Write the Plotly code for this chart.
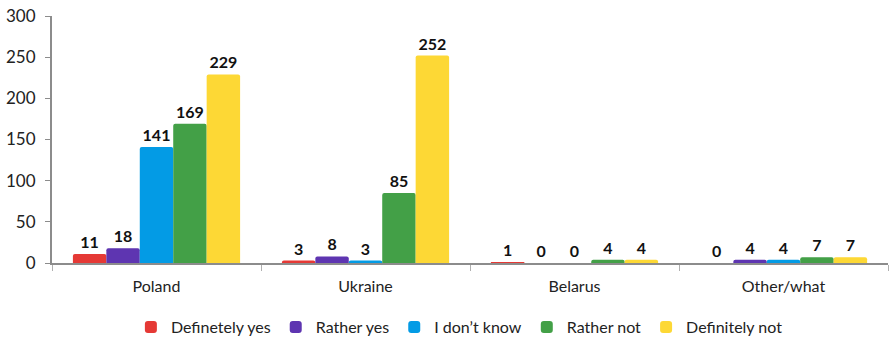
import plotly.graph_objects as go

categories = ["Poland", "Ukraine", "Belarus", "Other/what"]
series_names = ["Definetely yes", "Rather yes", "I don\u2019t know", "Rather not", "Definitely not"]
definetely_yes = [11, 3, 1, 0]
rather_yes = [18, 8, 0, 4]
dont_know = [141, 3, 0, 4]
rather_not = [169, 85, 4, 7]
definitely_not = [229, 252, 4, 7]
colors = ["#E53935", "#5E35B1", "#039BE5", "#43A047", "#FDD835"]
y_ticks = [0, 50, 100, 150, 200, 250, 300]

values = [definetely_yes, rather_yes, dont_know, rather_not, definitely_not]
FONT = "Lato, 'Open Sans', sans-serif"

fig = go.Figure()
for name, vals, col in zip(series_names, values, colors):
    fig.add_trace(go.Bar(
        x=categories, y=vals, name=name, marker_color=col,
        marker_line_width=0,
        text=vals, textposition="outside",
        texttemplate="<b>%{y}</b>",
        textfont=dict(size=16, color="#111111", family=FONT),
        cliponaxis=False,
    ))

fig.update_layout(
    width=892, height=339,
    margin=dict(l=52, r=4, t=16, b=76, autoexpand=False),
    paper_bgcolor="white", plot_bgcolor="white",
    barmode="group", bargap=0.2, bargroupgap=0, barcornerradius=2,
    font=dict(family=FONT, size=15, color="#222222"),
    showlegend=True,
    legend=dict(orientation="h", x=0.515, xanchor="center", xref="container",
                y=0.035, yanchor="middle", yref="container",
                font=dict(size=16, family=FONT), itemwidth=30, tracegroupgap=0,
                itemsizing="constant"),
    uniformtext=dict(minsize=16, mode="show"),
)
fig.update_xaxes(
    type="category", showline=True, linecolor="#8c8c8c", linewidth=2,
    ticks="outside", tickson="boundaries", ticklen=6, tickcolor="#b0b0b0",
    showgrid=False, tickfont=dict(size=16, family=FONT, color="#222222"),
    ticklabelstandoff=8,
)
fig.update_yaxes(
    range=[0, 300], tickvals=y_ticks, showline=True, linecolor="#8c8c8c", linewidth=2,
    ticks="outside", ticklen=5, tickcolor="#8c8c8c", showgrid=False, zeroline=False,
    tickfont=dict(size=17, family=FONT, color="#222222"), ticklabelstandoff=6,
)

fig.write_html("out.html")
